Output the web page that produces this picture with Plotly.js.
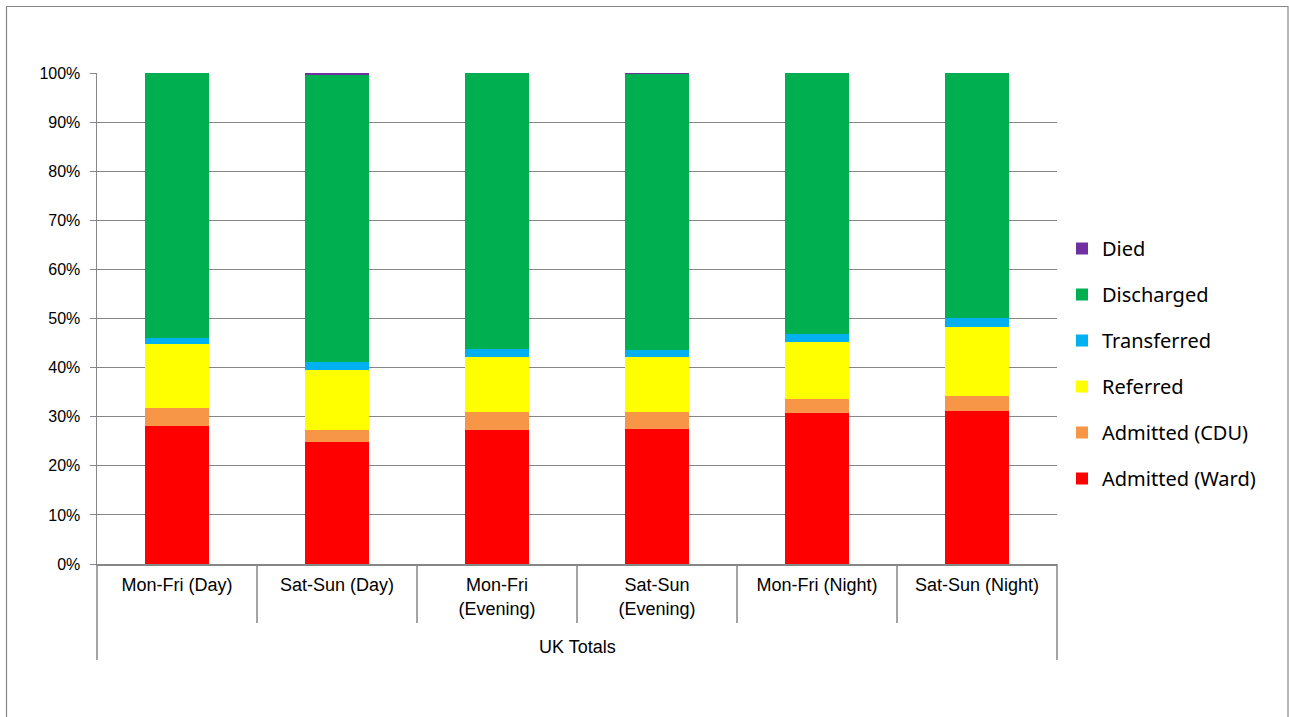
<!DOCTYPE html>
<html>
<head>
<meta charset="utf-8">
<script src="https://cdn.plot.ly/plotly-3.0.1.min.js"></script>
<style>html,body{margin:0;padding:0;background:#fff;}#chart{width:1289px;height:717px;}</style>
</head>
<body>
<div id="chart"></div>
<script>
const categories = ["Mon-Fri (Day)", "Sat-Sun (Day)", "Mon-Fri<br>(Evening)", "Sat-Sun<br>(Evening)", "Mon-Fri (Night)", "Sat-Sun (Night)"];
const groupLabel = "UK Totals";
const admittedWard = [28.2, 24.9, 27.2, 27.4, 30.8, 31.2];
const admittedCDU  = [3.6, 2.3, 3.7, 3.6, 2.8, 3.0];
const referred     = [13.1, 12.4, 11.3, 11.2, 11.7, 14.1];
const transferred  = [1.1, 1.5, 1.6, 1.3, 1.6, 1.9];
const discharged   = [53.9, 58.5, 56.1, 56.3, 53.0, 49.7];
const died         = [0.1, 0.4, 0.1, 0.2, 0.1, 0.1];
const yTickVals = [0, 10, 20, 30, 40, 50, 60, 70, 80, 90, 100];
const yTickText = ["0%", "10%", "20%", "30%", "40%", "50%", "60%", "70%", "80%", "90%", "100%"];

const seriesDefs = [
  {name: "Admitted (Ward)", y: admittedWard, color: "#FF0000"},
  {name: "Admitted (CDU)", y: admittedCDU, color: "#F79646"},
  {name: "Referred", y: referred, color: "#FFFF00"},
  {name: "Transferred", y: transferred, color: "#00B0F0"},
  {name: "Discharged", y: discharged, color: "#00B050"},
  {name: "Died", y: died, color: "#7030A0"}
];

const traces = seriesDefs.map((s, i) => ({
  type: "bar",
  name: s.name,
  x: categories,
  y: s.y,
  legendgroup: "g" + i,
  legendrank: 100 - i,
  marker: {color: s.color, line: {width: 0}},
  width: 0.4,
  hoverinfo: "name+y"
}));

// plot area geometry (px) for decoration in paper coordinates
const L = 97, R = 1057, T = 73, B = 564;
const W = R - L, H = B - T;
const px2x = p => (p - L) / W;
const py2y = p => (B - p) / H;

const shapes = [];
const n = categories.length;
// category boundary dividers (short)
for (let k = 1; k < n; k++) {
  shapes.push({type: "line", xref: "paper", yref: "paper", x0: k / n, x1: k / n, y0: 0, y1: py2y(623),
    line: {color: "#868686", width: 1.5}});
}
// outer dividers (long)
[0, 1].forEach(xv => shapes.push({type: "line", xref: "paper", yref: "paper", x0: xv, x1: xv, y0: 0, y1: py2y(660),
  line: {color: "#868686", width: 1.5}}));
// chart frame
shapes.push({type: "rect", xref: "paper", yref: "paper", x0: px2x(6.5), x1: px2x(1288), y0: py2y(740), y1: py2y(6.5),
  line: {color: "#868686", width: 1.2}, fillcolor: "rgba(0,0,0,0)", layer: "below"});

const layout = {
  width: 1289, height: 717,
  margin: {l: L, r: 1289 - R, t: T, b: 717 - B, pad: 0},
  paper_bgcolor: "#ffffff", plot_bgcolor: "#ffffff",
  barmode: "stack",
  bargap: 0.6,
  font: {family: "Liberation Sans, Arial, sans-serif", size: 16, color: "#000000"},
  xaxis: {
    type: "category",
    showline: true, linecolor: "#868686", linewidth: 1.5,
    ticks: "", showgrid: false,
    tickfont: {family: "Liberation Sans, Arial, sans-serif", size: 18, color: "#000"},
    ticklabelstandoff: 4,
    range: [-0.5, n - 0.5],
    fixedrange: true
  },
  yaxis: {
    range: [0, 100],
    tickvals: yTickVals, ticktext: yTickText,
    showgrid: true, gridcolor: "#868686", gridwidth: 1,
    showline: true, linecolor: "#868686", linewidth: 1.5,
    ticks: "outside", ticklen: 6, tickcolor: "#868686", tickwidth: 1,
    tickfont: {family: "Liberation Sans, Arial, sans-serif", size: 16, color: "#000"},
    ticklabelstandoff: 6,
    zeroline: false,
    fixedrange: true
  },
  legend: {
    x: px2x(1062), xanchor: "left", y: py2y(229), yanchor: "top",
    traceorder: "grouped",
    tracegroupgap: 17,
    font: {family: "Noto Sans, Open Sans, sans-serif", size: 20, color: "#000"},
    bgcolor: "rgba(0,0,0,0)",
    itemwidth: 30
  },
  shapes: shapes,
  annotations: [{
    xref: "paper", yref: "paper", x: 0.5, y: py2y(647), text: groupLabel, showarrow: false,
    font: {family: "Liberation Sans, Arial, sans-serif", size: 18, color: "#000"},
    xanchor: "center", yanchor: "middle"
  }]
};

Plotly.newPlot("chart", traces, layout, {displayModeBar: false, staticPlot: true});
</script>
</body>
</html>
